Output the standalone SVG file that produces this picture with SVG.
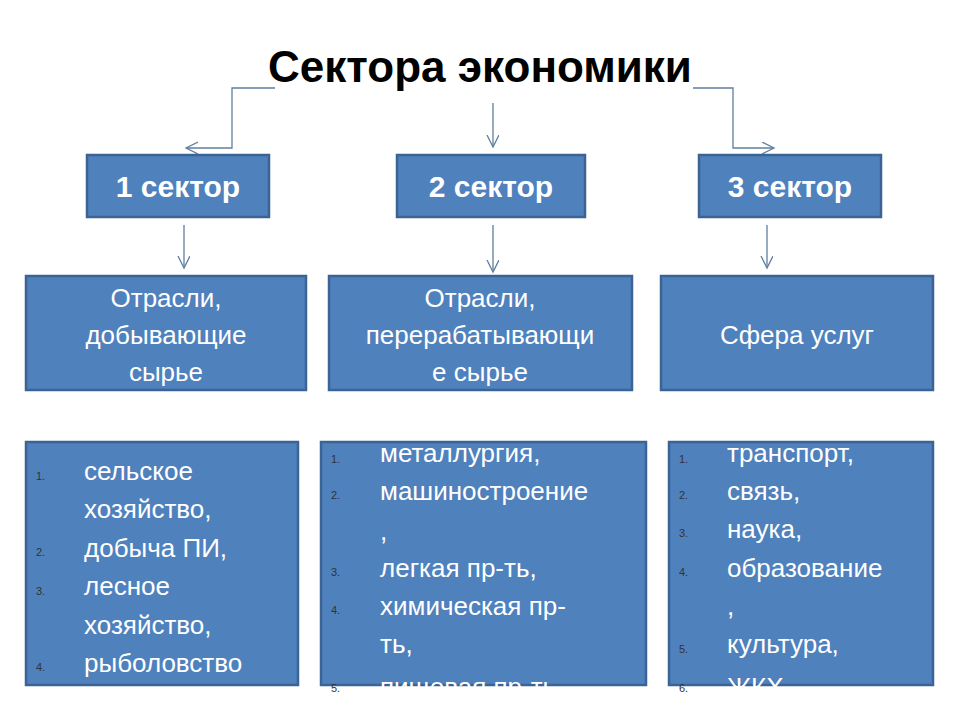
<svg xmlns="http://www.w3.org/2000/svg" width="960" height="720" viewBox="0 0 960 720">
<style>
.box{fill:#4f81bd;stroke:#3b6494;stroke-width:2.5}
.c{fill:none;stroke:#5f7f9f;stroke-width:1.3}
.t{font-family:"Liberation Sans",Arial,sans-serif;fill:#fff}
.h{font-size:30px;font-weight:bold;text-anchor:middle}
.m{font-size:26px;text-anchor:middle}
.l{font-size:26px}
.n{font-family:"Liberation Sans",Arial,sans-serif;font-size:11px;fill:#333}
</style>
<defs>
<marker id="a" markerWidth="14" markerHeight="14" refX="12" refY="6" orient="auto" markerUnits="userSpaceOnUse"><path d="M0,0 L12,6 L0,12" fill="none" stroke="#5f7f9f" stroke-width="1.3"/></marker>
<clipPath id="cl"><rect x="0" y="0" width="960" height="690"/></clipPath>
</defs>
<text x="480" y="82" text-anchor="middle" font-family="Liberation Sans,Arial,sans-serif" font-size="44" font-weight="bold" fill="#000">Сектора  экономики</text>
<g id="connectors">
<path class="c" d="M275,88 H232 V148 H186" marker-end="url(#a)"/>
<path class="c" d="M493,103 V147" marker-end="url(#a)"/>
<path class="c" d="M693,88 H733 V148 H774" marker-end="url(#a)"/>
<path class="c" d="M184,225 V268" marker-end="url(#a)"/>
<path class="c" d="M493,225 V272" marker-end="url(#a)"/>
<path class="c" d="M767,225 V268" marker-end="url(#a)"/>
</g>
<g id="s1"><rect class="box" x="87" y="155" width="182" height="62"/><text class="t h" x="178" y="197">1 сектор</text></g>
<g id="s2"><rect class="box" x="397" y="155" width="188" height="62"/><text class="t h" x="491" y="197">2 сектор</text></g>
<g id="s3"><rect class="box" x="699" y="155" width="182" height="62"/><text class="t h" x="790" y="197">3 сектор</text></g>
<g id="o1"><rect class="box" x="26" y="276" width="280" height="114"/><text class="t m" x="166" y="307">Отрасли,</text><text class="t m" x="166" y="344">добывающие</text><text class="t m" x="166" y="381">сырье</text></g>
<g id="o2"><rect class="box" x="329" y="276" width="303" height="114"/><text class="t m" x="480" y="307">Отрасли,</text><text class="t m" x="480" y="344">перерабатывающи</text><text class="t m" x="480" y="381">е   сырье</text></g>
<g id="o3"><rect class="box" x="661" y="276" width="272" height="114"/><text class="t m" x="797" y="344">Сфера  услуг</text></g>
<g id="l1"><rect class="box" x="26" y="442" width="272" height="243"/>
<text class="n" x="36" y="480">1.</text><text class="n" x="36" y="556">2.</text><text class="n" x="36" y="595">3.</text><text class="n" x="36" y="671">4.</text>
<g class="t l"><text x="84" y="480">сельское</text><text x="84" y="518">хозяйство,</text><text x="84" y="557">добыча ПИ,</text><text x="84" y="595">лесное</text><text x="84" y="634">хозяйство,</text><text x="84" y="672">рыболовство</text></g></g>
<g id="l2"><rect class="box" x="321" y="442" width="325" height="243"/>
<text class="n" x="331" y="463">1.</text><text class="n" x="331" y="499">2.</text><text class="n" x="331" y="576">3.</text><text class="n" x="331" y="614">4.</text><text class="n" x="331" y="692">5.</text>
<g class="t l" clip-path="url(#cl)"><text x="380" y="462">металлургия,</text><text x="380" y="500">машиностроение</text><text x="380" y="540">,</text><text x="380" y="577">легкая пр-ть,</text><text x="380" y="615">химическая пр-</text><text x="380" y="653">ть,</text><text x="380" y="696">пищевая пр-ть</text></g></g>
<g id="l3"><rect class="box" x="669" y="442" width="264" height="243"/>
<text class="n" x="679" y="463">1.</text><text class="n" x="679" y="499">2.</text><text class="n" x="679" y="537">3.</text><text class="n" x="679" y="576">4.</text><text class="n" x="679" y="653">5.</text><text class="n" x="679" y="692">6.</text>
<g class="t l" clip-path="url(#cl)"><text x="727" y="462">транспорт,</text><text x="727" y="500">связь,</text><text x="727" y="538">наука,</text><text x="727" y="577">образование</text><text x="727" y="615">,</text><text x="727" y="653">культура,</text><text x="727" y="696">ЖКХ</text></g></g>
</svg>
